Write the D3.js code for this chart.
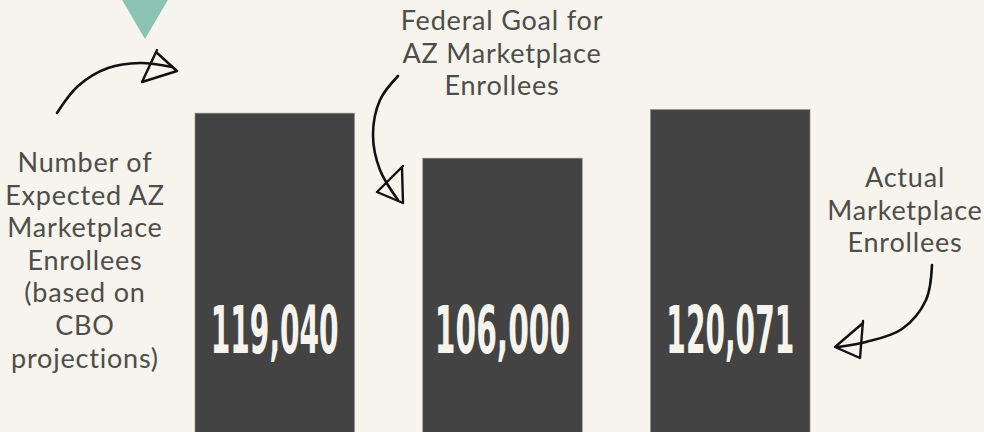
<!DOCTYPE html>
<html>
<head>
<meta charset="utf-8">
<script src="https://cdn.jsdelivr.net/npm/d3@7"></script>
<style>
  html, body { margin: 0; padding: 0; background: #f6f4ec; }
  svg { display: block; }
</style>
</head>
<body>
<div id="chart"></div>
<script>
// Data
const categories = ["expected", "goal", "actual"];
const values = [119040, 106000, 120071];
const valueLabels = ["119,040", "106,000", "120,071"];
const captions = [
    ["Number of", "Expected AZ", "Marketplace", "Enrollees", "(based on", "CBO", "projections)"],
    ["Federal Goal for", "AZ Marketplace", "Enrollees"],
    ["Actual", "Marketplace", "Enrollees"]
];

const width = 984, height = 432;

const svg = d3.select("#chart").append("svg")
    .attr("width", width)
    .attr("height", height);

svg.append("rect")
    .attr("width", width)
    .attr("height", height)
    .attr("fill", "#f6f4ec");

// Scales - bars run below the bottom edge of the picture
const x = d3.scaleBand()
    .domain(categories)
    .range([195, 810])
    .paddingInner(0.3)
    .paddingOuter(0);

const y = d3.scaleLinear()
    .domain([0, 120071])
    .range([524, 109.6]);

// Teal marker at the top
svg.append("path")
    .attr("d", "M121,-2 L169,-2 L145,39 Z")
    .attr("fill", "#8bc4b3");

// Bars
svg.selectAll(".bar")
    .data(values)
    .join("rect")
    .attr("class", "bar")
    .attr("x", (d, i) => x(categories[i]))
    .attr("y", d => y(d))
    .attr("width", x.bandwidth())
    .attr("height", d => y(0) - y(d))
    .attr("fill", "#434343")
    .attr("stroke", "#8a8a84")
    .attr("stroke-width", 0.6);

// Value labels inside bars (squeezed horizontally to look condensed)
const squeeze = 0.48;
svg.selectAll(".val")
    .data(valueLabels)
    .join("text")
    .attr("class", "val")
    .attr("transform", (d, i) => `translate(${x(categories[i]) + x.bandwidth() / 2},353) scale(${i === 1 ? squeeze * 1.06 : squeeze},1)`)
    .attr("text-anchor", "middle")
    .style("font-family", "'DejaVu Sans Condensed', 'DejaVu Sans', sans-serif")
    .style("font-weight", "bold")
    .style("font-size", "65px")
    .style("fill", "#f6f4ec")
    .text(d => d);

// Captions
const lineH = 32.6;
const captionPos = [
    { cx: 85, top: 172 },
    { cx: 502, top: 30 },
    { cx: 905, top: 187 }
];

captions.forEach((lines, i) => {
    lines.forEach((ln, j) => {
        svg.append("text")
            .attr("text-anchor", "middle")
            .attr("x", captionPos[i].cx)
            .attr("y", captionPos[i].top + j * lineH)
            .style("font-family", "Lato, 'Open Sans', sans-serif")
            .style("font-weight", 400)
            .style("font-size", "27px")
            .style("letter-spacing", "0.8px")
            .style("fill", "#4d4d4b")
            .text(ln);
    });
});

// Hand drawn arrows
const arrows = [
    {
        shaft: [[57, 113], [78, 86], [108, 68], [140, 63], [172, 67]],
        head: [[156, 52], [177, 71], [142, 82], [157, 50]]
    },
    {
        shaft: [[398, 76], [380, 100], [373, 135], [380, 170], [398, 200]],
        head: [[402, 168], [403, 203], [377, 192], [403, 166]]
    },
    {
        shaft: [[932, 265], [926, 300], [902, 329], [866, 342], [838, 347]],
        head: [[863, 323], [835, 347], [860, 358], [863, 321]]
    }
];

const curve = d3.line().curve(d3.curveCatmullRom);
const straight = d3.line();

arrows.forEach(a => {
    svg.append("path")
        .attr("d", curve(a.shaft))
        .attr("fill", "none")
        .attr("stroke", "#111")
        .attr("stroke-width", 2.6)
        .attr("stroke-linecap", "round");
    svg.append("path")
        .attr("d", straight(a.head))
        .attr("fill", "none")
        .attr("stroke", "#111")
        .attr("stroke-width", 2.4)
        .attr("stroke-linejoin", "round")
        .attr("stroke-linecap", "round");
});
</script>
</body>
</html>
